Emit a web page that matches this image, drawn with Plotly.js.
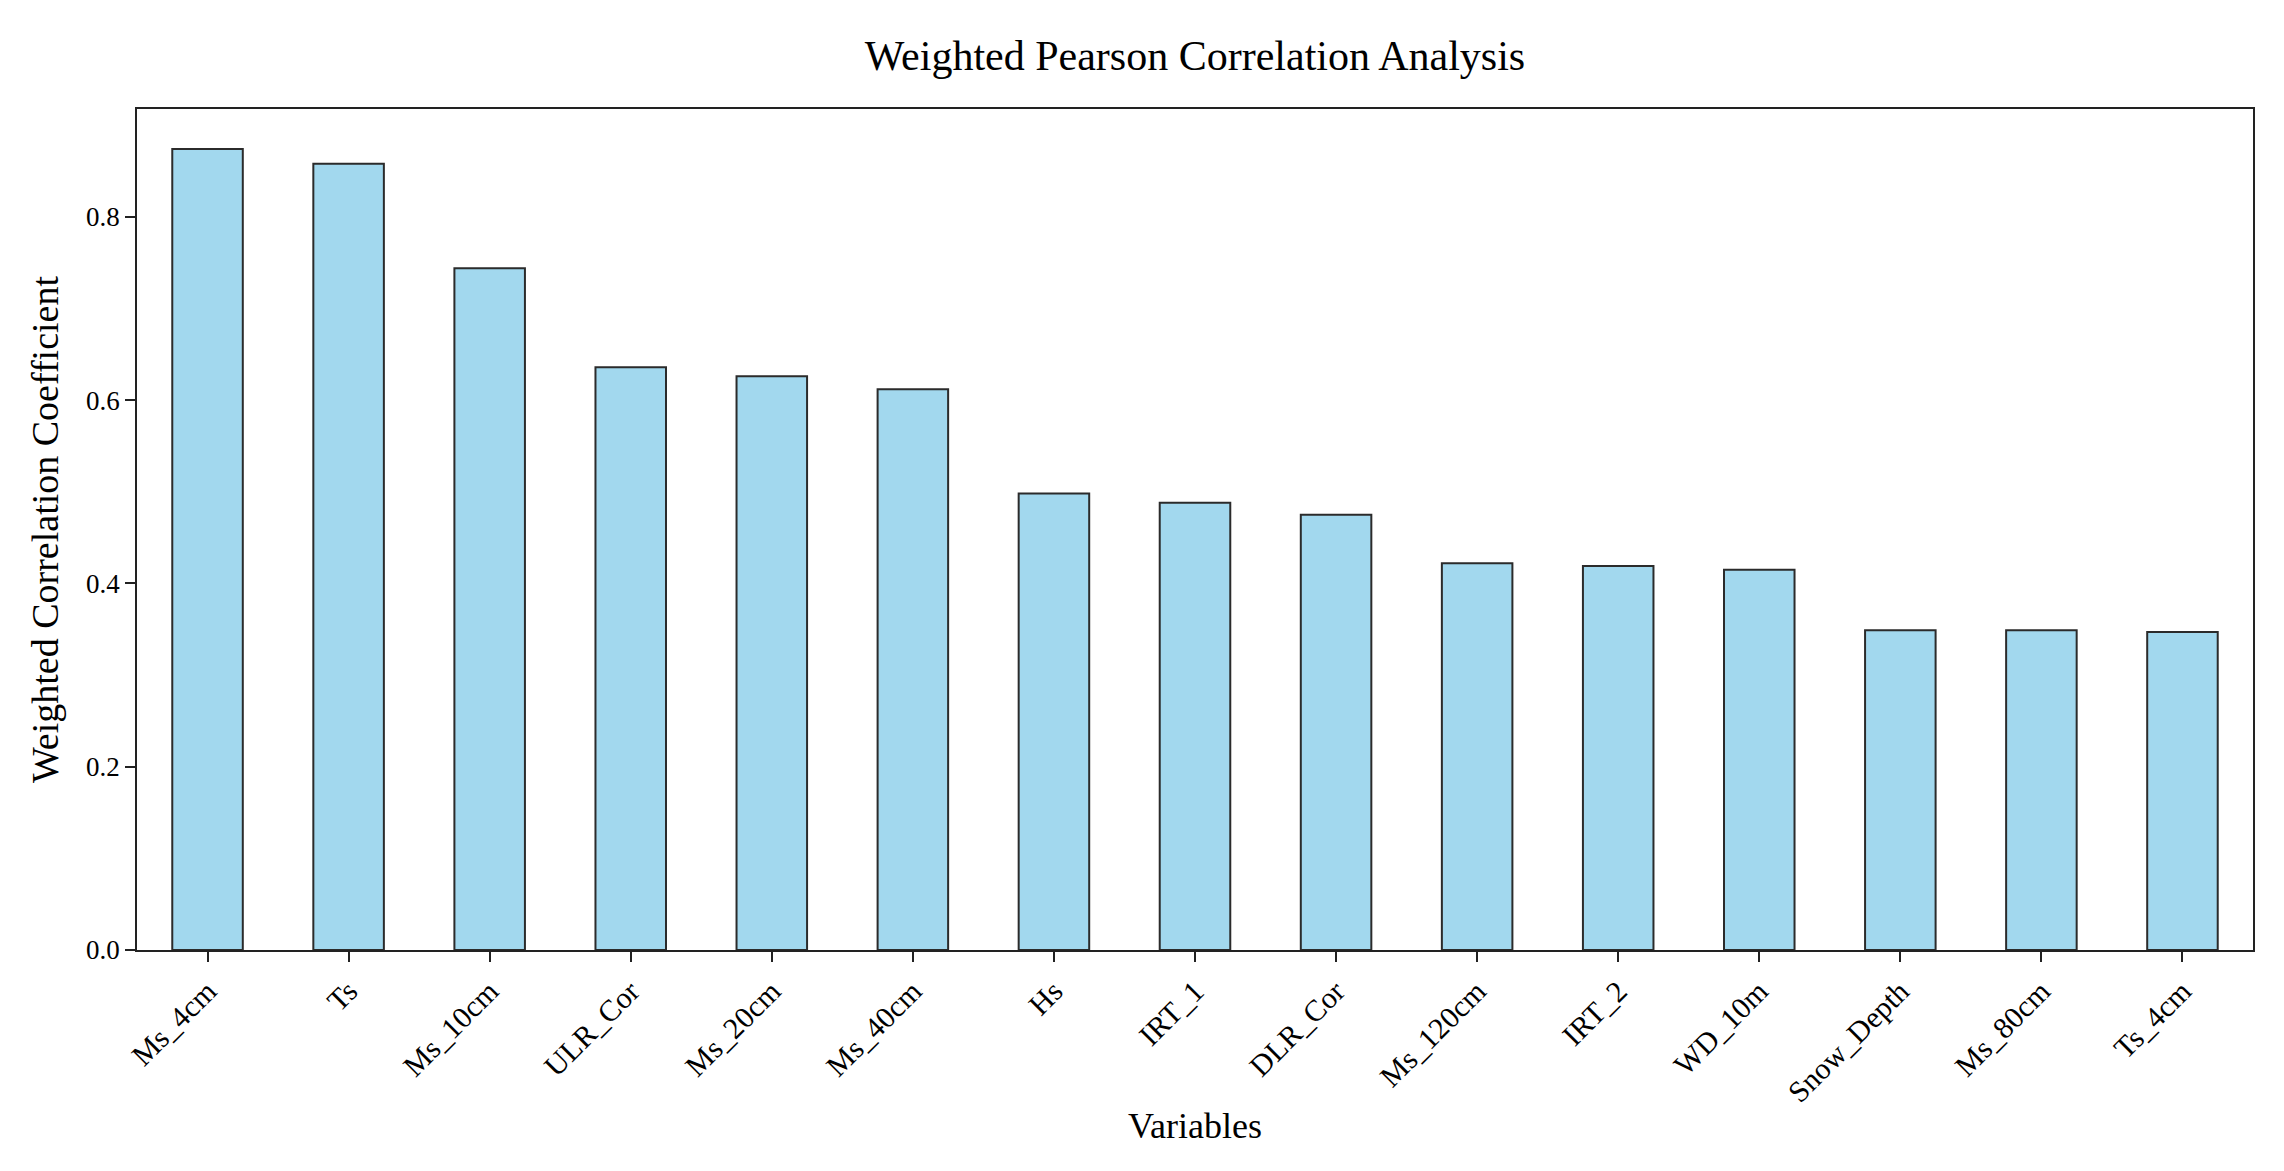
<!DOCTYPE html>
<html>
<head>
<meta charset="utf-8">
<script src="https://cdn.plot.ly/plotly-3.0.1.min.js"></script>
<style>
  html, body { margin: 0; padding: 0; background: #fff; }
  #chart { width: 2284px; height: 1171px; }
</style>
</head>
<body>
<div id="chart"></div>
<script>
(function () {
    'use strict';

    // Variables, sorted by weighted correlation
    const variables = [
        'Ms_4cm', 'Ts', 'Ms_10cm', 'ULR_Cor', 'Ms_20cm', 'Ms_40cm', 'Hs',
        'IRT_1', 'DLR_Cor', 'Ms_120cm', 'IRT_2', 'WD_10m', 'Snow_Depth',
        'Ms_80cm', 'Ts_4cm'
    ];
    const correlations = [
        0.874, 0.858, 0.744, 0.636, 0.626, 0.612, 0.498,
        0.488, 0.475, 0.422, 0.419, 0.415, 0.349,
        0.349, 0.347
    ];
    const yTicks = [0.0, 0.2, 0.4, 0.6, 0.8];

    const FONT = '"Liberation Serif", "Times New Roman", serif';
    const AXIS_COLOR = '#222';

    const trace = {
        type: 'bar',
        x: variables,
        y: correlations,
        width: 0.5,
        marker: {
            color: 'rgb(162,216,238)',
            line: { color: '#2b2b2b', width: 2 }
        },
        hoverinfo: 'x+y'
    };

    const yMax = Math.max(...correlations) * 1.05;

    const layout = {
        width: 2284,
        height: 1171,
        paper_bgcolor: '#fff',
        plot_bgcolor: '#fff',
        font: { family: FONT, color: '#000', size: 26 },
        margin: { l: 137, r: 31, t: 109, b: 221, pad: 0 },
        title: {
            text: 'Weighted Pearson Correlation Analysis',
            font: { family: FONT, size: 42, color: '#000' },
            xref: 'paper',
            x: 0.5,
            xanchor: 'center',
            y: 1 - 55 / 1171,
            yanchor: 'middle'
        },
        xaxis: {
            type: 'category',
            range: [-0.5, variables.length - 0.5],
            tickangle: -45,
            tickfont: { size: 30 },
            ticks: 'outside',
            ticklen: 10,
            tickwidth: 1.5,
            tickcolor: AXIS_COLOR,
            showline: true,
            linecolor: AXIS_COLOR,
            linewidth: 1.5,
            mirror: true,
            showgrid: false,
            zeroline: false,
            automargin: false,
            title: {
                text: 'Variables',
                font: { size: 36 },
                standoff: 5
            }
        },
        yaxis: {
            range: [0, yMax],
            tickvals: yTicks,
            ticktext: yTicks.map(v => v.toFixed(1)),
            tickfont: { size: 27 },
            ticks: 'outside',
            ticklen: 10,
            tickwidth: 1.5,
            tickcolor: AXIS_COLOR,
            showline: true,
            linecolor: AXIS_COLOR,
            linewidth: 1.5,
            mirror: true,
            showgrid: false,
            zeroline: false,
            automargin: false,
            title: {
                text: 'Weighted Correlation Coefficient',
                font: { size: 38 },
                standoff: 16
            }
        },
        showlegend: false,
        bargap: 0.5
    };

    Plotly.newPlot('chart', [trace], layout, { displayModeBar: false, responsive: false });
})();
</script>
</body>
</html>
